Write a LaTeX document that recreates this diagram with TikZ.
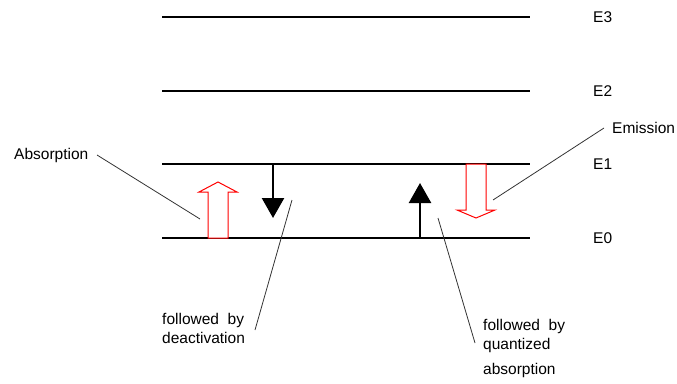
\documentclass[tikz,border=0pt]{standalone}
\usepackage{fontspec}
\setmainfont{Liberation Sans}
\usetikzlibrary{arrows.meta}

\begin{document}
\begin{tikzpicture}[x=1pt,y=-1pt,
  every node/.style={font=\fontsize{15.5}{19}\selectfont, inner sep=0pt},
  level/.style={line width=1.2pt},
  pointer/.style={line width=0.8pt, black!80},
  trans/.style={line width=2.4pt, -{Triangle[width=22pt,length=20pt]}},
  hollow/.style={red, line width=1pt, fill=white}]
  \useasboundingbox (0,0) rectangle (677,383);
  % levels
  \foreach \n/\y in {0/238,1/164,2/91,3/17} {
    \coordinate (l\n) at (162,\y);
    \coordinate (r\n) at (530,\y);
    \draw[level] (l\n) -- (r\n);
    \node[anchor=west] (e\n) at (593,\y) {E\n};
  }
  % radiative transitions
  \draw[hollow] (208,238) -- (208,192) -- (199,192) -- (218,182) -- (237,192)
    -- (228,192) -- (228,238) -- cycle;
  \draw[hollow] (466,164) -- (466,210) -- (457,210) -- (476,218) -- (495,210)
    -- (486,210) -- (486,164) -- cycle;
  % non-radiative transitions
  \coordinate (dtop) at (273,164);
  \coordinate (dbot) at (273,218);
  \coordinate (qbot) at (420,238);
  \coordinate (qtop) at (420,183);
  \draw[trans] (dtop) -- (dbot);
  \draw[trans] (qbot) -- (qtop);
  % labels
  \node[anchor=west] (abs) at (14,155) {Absorption};
  \node[anchor=west] (emi) at (612,128) {Emission};
  \node[anchor=north west, align=left] (deac) at (162,313) {followed\ \ by\\deactivation};
  \node[anchor=north west, align=left] (quant) at (483,319) {followed\ \ by\\quantized\\[6pt]absorption};
  \coordinate (pabs) at (200,219);
  \coordinate (pemi) at (493,200);
  \coordinate (pdeac) at (292,200);
  \coordinate (pquant) at (438,218);
  \draw[pointer] (97,155) -- (pabs);
  \draw[pointer] (emi.west) ++(-8,0) -- (pemi);
  \draw[pointer] (255,330) -- (pdeac);
  \draw[pointer] (475,343) -- (pquant);
\end{tikzpicture}
\end{document}
